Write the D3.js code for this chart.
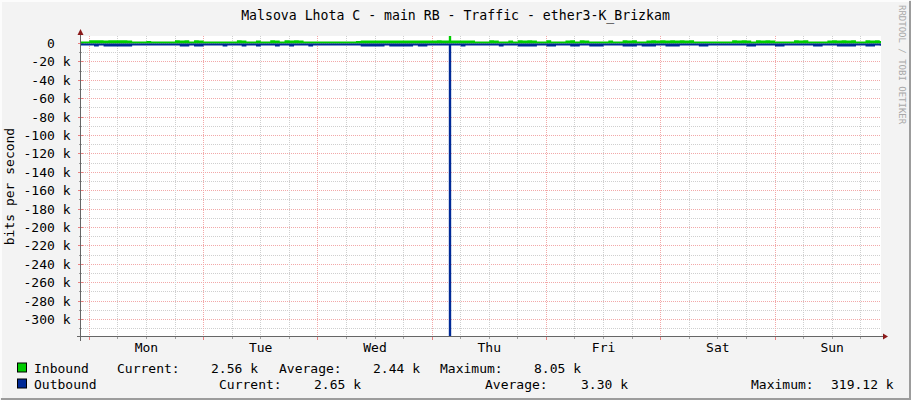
<!DOCTYPE html>
<html><head><meta charset="utf-8">
<script src="https://cdn.jsdelivr.net/npm/d3@7"></script>
<style>
body{margin:0;background:#f3f3f3;}
svg text{font-family:"DejaVu Sans Mono",monospace;}
</style>
</head><body><svg id="c" width="911" height="400"></svg>
<script>
// ---------------- data ----------------
const title = "Malsova Lhota C - main RB - Traffic - ether3-K_Brizkam";
const yAxisTitle = "bits per second";
const watermark = "RRDTOOL / TOBI OETIKER";
const days = ["Mon","Tue","Wed","Thu","Fri","Sat","Sun"];
const startHour = -2;           // hour of first sample (relative to Monday 00:00)
const viewStart = -1.74, viewEnd = 166.26; // visible hours
const yMin = -319.12, yMax = 8.05; // k bits/s
// short 30-minute spike sample (Thu ~03:30)
const spikeStart = 75.5, spikeEnd = 76.0;
const spikeIn = 8.05, spikeOut = 319.12;
// inbound (k), hourly from h=-2
const inbound = [
 2.1,2.2,
 3.3,3.4,3.3,3.2,3.4,3.3,3.3,3.4,3.2, 2.2,2.1,2.2, 2.6, 2.1,2.2,2.1,2.2,2.1, 3.3,3.2,3.3, 2.2, 3.3,3.2,
 2.1,2.2,2.1,2.1,2.2,2.1,2.2, 3.3,3.2, 2.2,2.1, 3.2, 2.1,2.2, 3.3,3.2,2.2,3.3,3.2,3.3,3.2,
 2.1,2.2,2.1,2.2,2.1,2.2,2.2,2.1,2.2,2.1,2.2,2.5,
 3.1,3.2,3.1,3.2,3.1,3.2,3.2,3.1,3.2,3.1,3.2,3.1,3.2,3.2,3.1,3.2,3.3,3.1, 3.2, 3.2,3.1,3.2,3.1,3.2,
 2.2,2.1,2.2, 3.3,3.2, 2.1,2.2, 3.2, 2.2, 3.3,3.2,3.3,3.2, 2.2,2.1, 3.3, 2.2,2.1,2.2, 3.2,3.3, 2.2, 3.3,3.2,
 2.1,2.2,2.1,2.2, 3.2, 2.1,2.2, 3.3,3.2,3.3, 2.2,2.1,
 3.2,3.3,3.2,3.3,3.2,3.3,3.2,3.3,3.2,3.3,
 2.2,2.1,2.2,2.1,2.2,2.1,2.2,2.1, 3.3,3.2,3.3,3.2, 2.2, 3.3,3.2,3.3,3.2, 2.1,2.2,2.1,2.2,
 3.3,3.2,3.3, 2.2,2.1,2.2,2.1, 3.2,3.3,3.2,3.3,3.2,3.3, 2.2,2.1, 3.3,3.2,3.3,2.56
];
// outbound (k), hourly from h=-2
const outbound = [
 2.3,2.2,
 2.3,3.4,2.3,3.3,3.4,3.3,3.4,3.4,3.3,
 2.3,2.2,2.3,2.2,2.3,2.3,2.2,2.3,2.2,2.3, 3.4,3.3, 2.3, 3.4,3.3,
 2.2,2.3,2.2,2.3, 3.3, 2.3,2.2,2.3, 3.4, 2.2,2.3, 3.3, 2.3,2.2,2.3, 3.3, 2.2,2.3, 3.4, 2.3,2.2,2.3, 3.3,
 2.2,2.3,2.2,2.3,2.3,2.2,2.3,2.2,2.3,2.2,
 3.4,3.3,3.4,3.3,3.4, 2.3, 3.4,3.3,3.4,3.3,3.4, 2.3, 3.3,3.4, 2.3,2.2,2.3,2.2,
 2.3,
 2.3,2.2, 3.3, 2.3,2.2,2.3,2.2,2.3,2.2,2.3, 3.4, 2.2,2.3,2.2, 3.4,3.3,3.4,3.3, 2.3,2.2, 3.4,3.3,
 2.3,2.2,2.3, 3.4,3.3, 2.2,2.3, 3.4,3.3,3.4, 2.3,2.2,2.3,2.2, 3.3,3.4,3.3, 2.3, 3.4,3.3,3.4, 2.2,2.3,
 3.3,3.4,3.3, 2.3,2.2,2.3,2.2, 3.4,3.3, 2.3,2.2,2.3,2.2,2.3,2.2,2.3,2.2, 3.4,3.3, 2.3,2.2,2.3,2.2,
 3.3,3.4, 2.3,2.2,2.3,2.2,2.3,2.2, 3.4,3.3, 2.3,2.2,2.3, 3.4,3.3,3.4,3.3, 2.2,2.3, 3.4,3.3, 2.3,2.65
];
const yLabelTicks = [0,-20,-40,-60,-80,-100,-120,-140,-160,-180,-200,-220,-240,-260,-280,-300];
const legendRows = [
  {name:"Inbound",  color:"#00CC00", items:[["Current:","2.56 k"],["Average:","2.44 k"],["Maximum:","8.05 k"]]},
  {name:"Outbound", color:"#002A97", items:[["Current:","2.65 k"],["Average:","3.30 k"],["Maximum:","319.12 k"]]}
];

// ---------------- layout ----------------
const W = 911, H = 400;
const L = 81, R = 881, T = 36, B = 337;
const svg = d3.select("#c");
const x = d3.scaleLinear().domain([viewStart, viewEnd]).range([L, R]);
const y = d3.scaleLinear().domain([yMin, yMax]).range([B, T]);

// background + frame
svg.append("rect").attr("width",W).attr("height",H).attr("fill","#f3f3f3");
svg.append("path").attr("d",`M${W-1},1V${H-1}H1`).attr("stroke","#9c9c9c").attr("stroke-width",2).attr("fill","none");
svg.append("path").attr("d",`M1,${H-2}V1H${W-2}`).attr("stroke","#fcfcfc").attr("stroke-width",2).attr("fill","none");

// plot background
svg.append("rect").attr("x",L).attr("y",T).attr("width",R-L).attr("height",B-T).attr("fill","#ffffff");

const gGrid = svg.append("g");
const minorY = d3.range(0, yMin, -10);
const minorX = d3.range(0, viewEnd, 6);
const crisp = v => Math.floor(v) + 0.5;
minorY.forEach(v => {
  const major = v % 20 === 0;
  const yy = crisp(y(v));
  gGrid.append("line").attr("x1",L).attr("x2",R).attr("y1",yy).attr("y2",yy)
    .attr("stroke", major ? "#f2a8a8" : "#cfcfcf").attr("stroke-dasharray","1,1");
  gGrid.append("line").attr("x1", major?L-3:L-2).attr("x2", major?L+2:L+1).attr("y1",yy).attr("y2",yy)
    .attr("stroke", major ? "#e88080" : "#a0a0a0");
});
minorX.forEach(h => {
  const major = h % 24 === 0;
  const xx = crisp(x(h));
  gGrid.append("line").attr("x1",xx).attr("x2",xx).attr("y1",T).attr("y2",B)
    .attr("stroke", major ? "#f2a8a8" : "#cfcfcf").attr("stroke-dasharray","1,1");
  gGrid.append("line").attr("x1",xx).attr("x2",xx).attr("y1",B-1).attr("y2",B+(major?3:2))
    .attr("stroke", major ? "#e88080" : "#a0a0a0");
});

// data areas
svg.append("clipPath").attr("id","pc").append("rect")
  .attr("x",L).attr("y",T-1).attr("width",R-L).attr("height",B-T+1);
function series(arr, spikeVal){
  const pts = arr.map((v,i)=>({h:startHour+i, v}));
  pts.push({h:startHour+arr.length, v:arr[arr.length-1]});
  const before = arr[Math.floor(spikeStart)-startHour];
  pts.push({h:spikeStart, v:spikeVal});
  pts.push({h:spikeEnd, v:arr[Math.floor(spikeEnd)-startHour]});
  pts.sort((a,b)=>a.h-b.h);
  return pts;
}
const gData = svg.append("g").attr("clip-path","url(#pc)");
const inArea = d3.area().curve(d3.curveStepAfter)
  .x(d=>x(d.h)).y0(y(0)).y1(d=>y(d.v));
const outArea = d3.area().curve(d3.curveStepAfter)
  .x(d=>x(d.h)).y0(y(0)).y1(d=>y(-d.v));
gData.append("path").datum(series(inbound, spikeIn)).attr("d",inArea).attr("fill","#00CC00");
gData.append("path").datum(series(outbound, spikeOut)).attr("d",outArea).attr("fill","#002A97");

// axes
svg.append("line").attr("x1",80.5).attr("x2",80.5).attr("y1",341).attr("y2",33).attr("stroke","#666");
svg.append("line").attr("x1",77).attr("x2",884).attr("y1",336.5).attr("y2",336.5).attr("stroke","#666");
svg.append("path").attr("d","M77.5,35L83.5,35L80.5,29Z").attr("fill","#8b1a1a");
svg.append("path").attr("d","M883,333.5L883,339.5L888,336.5Z").attr("fill","#8b1a1a");

// y labels
yLabelTicks.forEach(v => {
  svg.append("text").attr("x",70.5).attr("y",y(v)+4.5).attr("text-anchor","end")
    .attr("font-size","13px").attr("fill","#000").style("white-space","pre")
    .text(v === 0 ? "0\u00a0\u00a0" : `${v} k`);
});
// x labels
days.forEach((d,i) => {
  svg.append("text").attr("x",x(i*24+12)).attr("y",351.5).attr("text-anchor","middle")
    .attr("font-size","13px").attr("fill","#000").text(d);
});
// title
svg.append("text").attr("x",W/2).attr("y",20).attr("text-anchor","middle")
  .attr("font-size","13.2px").attr("fill","#000").text(title);
// y axis title
svg.append("text").attr("transform",`translate(14,${(T+B)/2}) rotate(-90)`).attr("text-anchor","middle")
  .attr("font-size","13px").attr("fill","#000").text(yAxisTitle);
// watermark
svg.append("text").attr("transform","translate(898.5,5) rotate(90)").attr("text-anchor","start")
  .attr("font-size","9px").attr("fill","#a8a8a8").text(watermark);

// legend
const legendX = [[117,211,279,373,440,534],[219,314,485,581,751,831]];
const legendY = [372.5, 388.5];
legendRows.forEach((row,r) => {
  svg.append("rect").attr("x",17.5).attr("y",legendY[r]-9.5).attr("width",9).attr("height",9)
    .attr("fill",row.color).attr("stroke","#000");
  svg.append("text").attr("x",34).attr("y",legendY[r]).attr("font-size","13px").text(row.name);
  row.items.forEach((it,k) => {
    svg.append("text").attr("x",legendX[r][2*k]).attr("y",legendY[r]).attr("font-size","13px").text(it[0]);
    svg.append("text").attr("x",legendX[r][2*k+1]).attr("y",legendY[r]).attr("font-size","13px").text(it[1]);
  });
});
</script>
</body></html>
